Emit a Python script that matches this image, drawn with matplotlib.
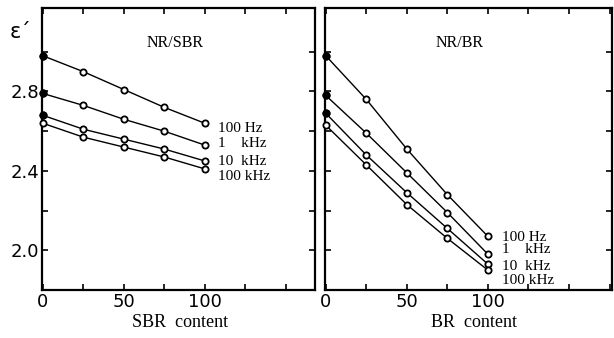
import numpy as np
import matplotlib.pyplot as plt

# data
content = [0, 25, 50, 75, 100]
freq_labels = ["100 Hz", "1    kHz", "10  kHz", "100 kHz"]

sbr_eps = [
    [2.98, 2.90, 2.81, 2.72, 2.64],  # 100 Hz
    [2.79, 2.73, 2.66, 2.60, 2.53],  # 1 kHz
    [2.68, 2.61, 2.56, 2.51, 2.45],  # 10 kHz
    [2.64, 2.57, 2.52, 2.47, 2.41],  # 100 kHz
]
br_eps = [
    [2.98, 2.76, 2.51, 2.28, 2.07],
    [2.78, 2.59, 2.39, 2.19, 1.98],
    [2.69, 2.48, 2.29, 2.11, 1.93],
    [2.63, 2.43, 2.23, 2.06, 1.90],
]

serif = "Liberation Serif"
sans = "DejaVu Sans"


def style_axes(ax, xmax, show_ylabels):
    ax.set_xlim(-0.5, xmax)
    ax.set_ylim(1.8, 3.22)
    ax.set_xticks(np.arange(0, xmax, 25))
    ax.set_xticklabels(["0", "", "50", "", "100", "", "", ""][:len(ax.get_xticks())])
    ax.set_yticks(np.arange(2.0, 3.01, 0.2))
    if show_ylabels:
        ax.set_yticklabels(["2.0", "", "2.4", "", "2.8", ""])
    else:
        ax.set_yticklabels([])
    ax.tick_params(direction="in", length=4, width=1.2, top=True, right=True,
                   labelsize=13, pad=2)
    for lab in ax.get_xticklabels() + ax.get_yticklabels():
        lab.set_family(sans)
    for sp in ax.spines.values():
        sp.set_linewidth(1.6)


def draw_series(ax, series):
    for vals in series:
        ax.plot(content, vals, color="black", lw=1.0, marker="o", ms=4.5,
                mfc="white", mec="black", mew=1.3, clip_on=False, zorder=3)
    for vals in series[:3]:
        ax.plot(content[0], vals[0], "o", color="black", ms=4.8,
                clip_on=False, zorder=4)


fig = plt.figure(figsize=(6.14, 3.38), dpi=100)
ax1 = fig.add_axes([0.0684, 0.142, 0.4446, 0.834])
ax2 = fig.add_axes([0.5293, 0.142, 0.4674, 0.834])

draw_series(ax1, sbr_eps)
draw_series(ax2, br_eps)
style_axes(ax1, 168, True)
style_axes(ax2, 176.5, False)

ax1.text(0.487, 0.876, "NR/SBR", transform=ax1.transAxes, ha="center",
         va="center", family=serif, fontsize=11.5)
ax2.text(0.47, 0.876, "NR/BR", transform=ax2.transAxes, ha="center",
         va="center", family=serif, fontsize=11.5)

for lab, y in zip(freq_labels, [0.574, 0.518, 0.457, 0.404]):
    ax1.text(0.645, y, lab, transform=ax1.transAxes, va="center",
             family=serif, fontsize=11)
for lab, y in zip(freq_labels, [0.188, 0.142, 0.085, 0.032]):
    ax2.text(0.616, y, lab, transform=ax2.transAxes, va="center",
             family=serif, fontsize=11)

fig.text(0.293, 0.047, "SBR  content", ha="center", va="center",
         family=serif, fontsize=13)
fig.text(0.772, 0.047, "BR  content", ha="center", va="center",
         family=serif, fontsize=13)
fig.text(0.033, 0.905, "ε´", ha="center", va="center", family=sans,
         fontsize=15)

fig.savefig("out.png", dpi=100)
